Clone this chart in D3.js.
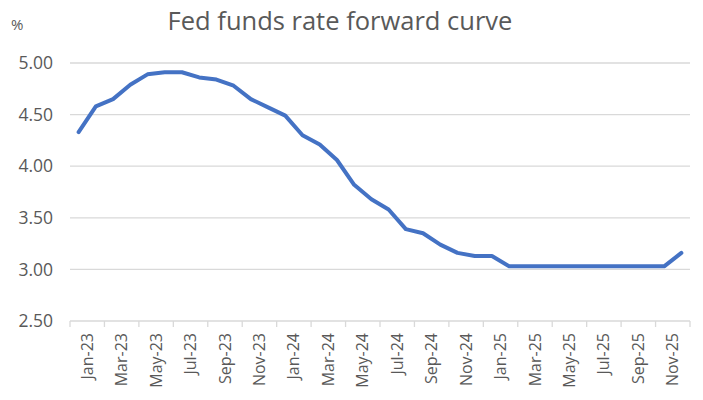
<!DOCTYPE html>
<html>
<head>
<meta charset="utf-8">
<script src="https://cdn.jsdelivr.net/npm/d3@7"></script>
<style>
  body { margin: 0; background: #fff; }
  svg { display: block; font-family: "Open Sans", sans-serif; }
  .tick-label { fill: #595959; }
</style>
</head>
<body>
<div id="chart"></div>
<script>
// monthly forward curve, Jan-23 .. Dec-25
const months = [
  "Jan-23","Feb-23","Mar-23","Apr-23","May-23","Jun-23","Jul-23","Aug-23","Sep-23","Oct-23","Nov-23","Dec-23",
  "Jan-24","Feb-24","Mar-24","Apr-24","May-24","Jun-24","Jul-24","Aug-24","Sep-24","Oct-24","Nov-24","Dec-24",
  "Jan-25","Feb-25","Mar-25","Apr-25","May-25","Jun-25","Jul-25","Aug-25","Sep-25","Oct-25","Nov-25","Dec-25"
];
const rates = [
  4.33, 4.58, 4.65, 4.79, 4.89, 4.91, 4.91, 4.86, 4.84, 4.78, 4.65, 4.57,
  4.49, 4.30, 4.21, 4.06, 3.82, 3.68, 3.58, 3.39, 3.35, 3.24, 3.16, 3.13,
  3.13, 3.03, 3.03, 3.03, 3.03, 3.03, 3.03, 3.03, 3.03, 3.03, 3.03, 3.16
];
const yTicks = [2.5, 3.0, 3.5, 4.0, 4.5, 5.0];
const xLabels = months.filter((m, i) => i % 2 === 0);

const width = 703, height = 400;
const margin = {top: 63, right: 13, bottom: 79, left: 70};

const svg = d3.select("#chart").append("svg")
    .attr("width", width)
    .attr("height", height);

const x = d3.scaleBand()
    .domain(months)
    .range([margin.left, width - margin.right])
    .padding(0);

const y = d3.scaleLinear()
    .domain([2.5, 5])
    .range([height - margin.bottom, margin.top]);

// title
svg.append("text")
    .attr("x", 340)
    .attr("y", 30)
    .attr("text-anchor", "middle")
    .attr("fill", "#595959")
    .style("font-size", "25.5px")
    .text("Fed funds rate forward curve");

svg.append("text")
    .attr("x", 11)
    .attr("y", 30)
    .attr("fill", "#595959")
    .style("font-size", "15px")
    .text("%");

// gridlines (the 2.50 one doubles as the x axis line)
svg.append("g")
    .selectAll("line")
    .data(yTicks)
    .join("line")
    .attr("x1", margin.left)
    .attr("x2", width - margin.right)
    .attr("y1", d => y(d))
    .attr("y2", d => y(d))
    .attr("stroke", "#d9d9d9")
    .attr("stroke-width", 1.3);

// y labels
const yAxis = svg.append("g")
    .attr("transform", `translate(${margin.left},0)`)
    .call(d3.axisLeft(y).tickValues(yTicks).tickFormat(d3.format(".2f")).tickSize(0).tickPadding(17));
yAxis.select(".domain").remove();
yAxis.selectAll("text")
    .attr("class", "tick-label")
    .style("font-size", "17.5px")
    .style("font-family", "'Open Sans', sans-serif");

// x tick marks at band boundaries, every 2 months
const tickPos = months.filter((m, i) => i % 2 === 0).map(m => x(m)).concat([x.range()[1]]);
svg.append("g")
    .selectAll("line")
    .data(tickPos)
    .join("line")
    .attr("x1", d => d)
    .attr("x2", d => d)
    .attr("y1", y(2.5))
    .attr("y2", y(2.5) + 6)
    .attr("stroke", "#d9d9d9")
    .attr("stroke-width", 1.3);

// x labels, rotated
const xAxis = svg.append("g")
    .attr("transform", `translate(${x.bandwidth() / 2},${y(2.5)})`)
    .call(d3.axisBottom(x).tickValues(xLabels).tickSize(0).tickPadding(0));
xAxis.select(".domain").remove();
xAxis.selectAll("text")
    .attr("class", "tick-label")
    .style("font-size", "16px")
    .style("font-family", "'Open Sans', sans-serif")
    .attr("text-anchor", "end")
    .attr("dy", "0.35em")
    .attr("transform", "translate(0,12) rotate(-90)");

// line
const line = d3.line()
    .x((d, i) => x(months[i]) + x.bandwidth() / 2)
    .y(d => y(d));

svg.append("path")
    .datum(rates)
    .attr("fill", "none")
    .attr("stroke", "#4472c4")
    .attr("stroke-width", 4)
    .attr("stroke-linejoin", "round")
    .attr("stroke-linecap", "round")
    .attr("d", line);
</script>
</body>
</html>
